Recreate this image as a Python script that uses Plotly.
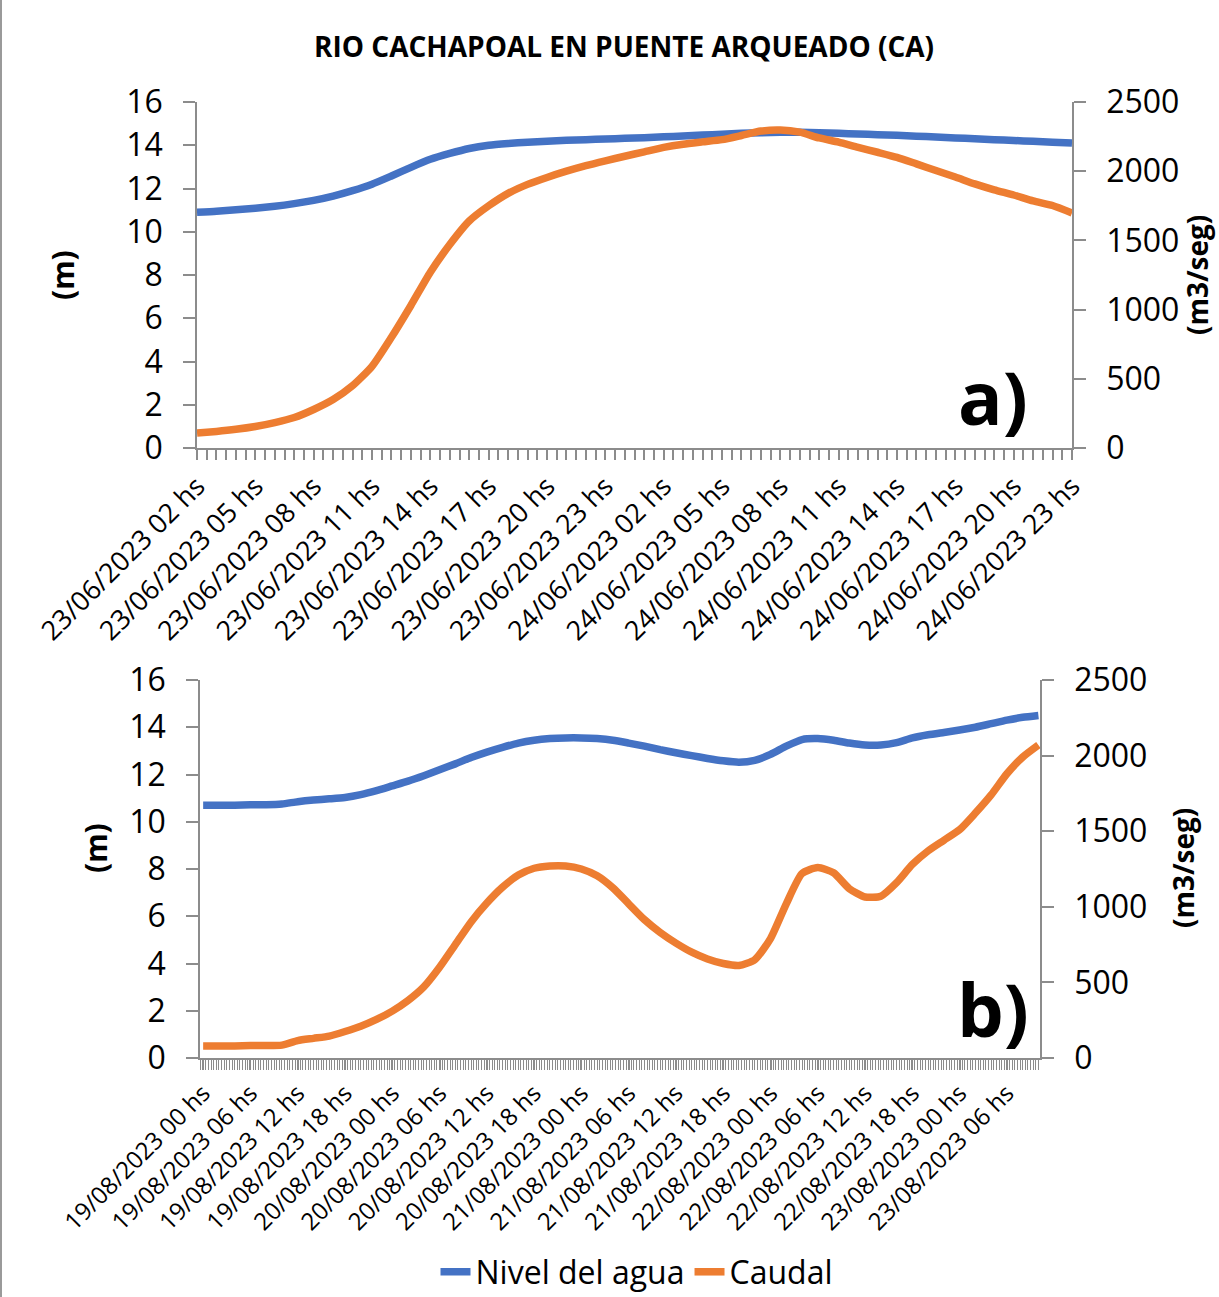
import plotly.graph_objects as go

W, H = 1219, 1297

# ---------------- data: panel a) (hourly, 23/06/2023 02 hs -> 24/06/2023 23 hs)
hours_a = list(range(46))
nivel_a = [10.90, 10.95, 11.02, 11.09, 11.18, 11.30, 11.45, 11.65, 11.90, 12.20,
           12.58, 12.98, 13.35, 13.62, 13.85, 14.00, 14.08, 14.14, 14.19, 14.23,
           14.26, 14.29, 14.32, 14.35, 14.39, 14.43, 14.47, 14.51, 14.55, 14.58,
           14.60, 14.60, 14.58, 14.55, 14.52, 14.49, 14.46, 14.42, 14.38, 14.34,
           14.30, 14.26, 14.22, 14.18, 14.14, 14.10]
caudal_a = [108, 120, 135, 155, 183, 220, 278, 350, 450, 590,
            800, 1030, 1270, 1470, 1640, 1750, 1840, 1905, 1955, 2000,
            2040, 2075, 2108, 2140, 2172, 2195, 2212, 2228, 2258, 2290,
            2298, 2282, 2240, 2210, 2172, 2137, 2100, 2053, 2005, 1958,
            1908, 1865, 1828, 1785, 1752, 1698]
ticks_a = list(range(0, 46, 3))
labels_a = ["23/06/2023 02 hs", "23/06/2023 05 hs", "23/06/2023 08 hs", "23/06/2023 11 hs",
            "23/06/2023 14 hs", "23/06/2023 17 hs", "23/06/2023 20 hs", "23/06/2023 23 hs",
            "24/06/2023 02 hs", "24/06/2023 05 hs", "24/06/2023 08 hs", "24/06/2023 11 hs",
            "24/06/2023 14 hs", "24/06/2023 17 hs", "24/06/2023 20 hs", "24/06/2023 23 hs"]

# ---------------- data: panel b) (every 2 h, 19/08/2023 00 hs -> 23/08/2023 10 hs)
hours_b = list(range(0, 107, 2))
nivel_b = [10.70, 10.70, 10.70, 10.72, 10.72, 10.75, 10.85, 10.92, 10.97, 11.03,
           11.15, 11.32, 11.52, 11.72, 11.95, 12.20, 12.45, 12.72, 12.95, 13.15,
           13.33, 13.45, 13.52, 13.55, 13.55, 13.52, 13.45, 13.33, 13.20, 13.05,
           12.92, 12.80, 12.68, 12.58, 12.52, 12.60, 12.85, 13.20, 13.48, 13.52,
           13.45, 13.33, 13.25, 13.25, 13.35, 13.55, 13.68, 13.78, 13.88, 14.00,
           14.15, 14.30, 14.42, 14.50]
caudal_b = [80, 80, 80, 82, 82, 85, 115, 130, 145, 175,
            210, 255, 310, 380, 470, 600, 750, 900, 1025, 1130,
            1210, 1255, 1270, 1270, 1250, 1205, 1125, 1020, 915, 830,
            760, 700, 655, 625, 612, 650, 790, 1020, 1220, 1260,
            1225, 1120, 1065, 1070, 1160, 1280, 1370, 1440, 1510, 1620,
            1740, 1880, 1990, 2070]
ticks_b = list(range(0, 103, 6))
labels_b = ["19/08/2023 00 hs", "19/08/2023 06 hs", "19/08/2023 12 hs", "19/08/2023 18 hs",
            "20/08/2023 00 hs", "20/08/2023 06 hs", "20/08/2023 12 hs", "20/08/2023 18 hs",
            "21/08/2023 00 hs", "21/08/2023 06 hs", "21/08/2023 12 hs", "21/08/2023 18 hs",
            "22/08/2023 00 hs", "22/08/2023 06 hs", "22/08/2023 12 hs", "22/08/2023 18 hs",
            "23/08/2023 00 hs", "23/08/2023 06 hs"]

BLUE = "#4472C4"
ORANGE = "#ED7D31"
GREY = "#8c8c8c"
FONT = "Open Sans"


def fx(x):
    return x / W


def fy(y):
    return 1 - y / H


fig = go.Figure()
line_kw = dict(width=7.5)
fig.add_trace(go.Scatter(x=hours_a, y=nivel_a, name="Nivel del agua", mode="lines",
                         line=dict(color=BLUE, shape="spline", smoothing=0.6, **line_kw),
                         xaxis="x", yaxis="y"))
fig.add_trace(go.Scatter(x=hours_a, y=caudal_a, name="Caudal", mode="lines",
                         line=dict(color=ORANGE, shape="spline", smoothing=0.6, **line_kw),
                         xaxis="x", yaxis="y2"))
fig.add_trace(go.Scatter(x=hours_b, y=nivel_b, name="Nivel del agua", mode="lines", showlegend=False,
                         line=dict(color=BLUE, shape="spline", smoothing=0.6, **line_kw),
                         xaxis="x2", yaxis="y3"))
fig.add_trace(go.Scatter(x=hours_b, y=caudal_b, name="Caudal", mode="lines", showlegend=False,
                         line=dict(color=ORANGE, shape="spline", smoothing=0.6, **line_kw),
                         xaxis="x2", yaxis="y4"))

axis_common = dict(showgrid=False, zeroline=False, showline=True, linecolor=GREY, linewidth=1.5,
                   tickcolor=GREY, tickwidth=1.5, fixedrange=True, automargin=False)

xa_dom = [fx(197), fx(1072)]
xb_dom = [fx(200), fx(1040)]
ya_dom = [fy(448), fy(102)]
yb_dom = [fy(1058), fy(680)]

inside_common = dict(showticklabels=False, showline=False, showgrid=False, zeroline=False,
                     tickcolor=GREY, tickwidth=1.5, ticks="inside", ticklen=12, automargin=False)
YT = dict(size=32, family=FONT, color="black")

layout = dict(
    width=W, height=H, autosize=False,
    margin=dict(l=0, r=0, t=0, b=0, pad=0, autoexpand=False),
    paper_bgcolor="white", plot_bgcolor="white",
    font=dict(family=FONT, color="black"),
    showlegend=True,
    legend=dict(orientation="h", x=fx(637), xanchor="center", y=fy(1272), yanchor="middle",
                font=dict(size=32, family=FONT, color="black"), bgcolor="rgba(0,0,0,0)"),
    xaxis=dict(domain=xa_dom, anchor="y", range=[0, 45], tickmode="array", tickvals=ticks_a,
               ticktext=labels_a, tickangle=-45, ticks="outside", ticklen=10,
               tickfont=dict(size=27, family=FONT, color="black"),
               minor=dict(dtick=0.5, tick0=0, ticks="outside", ticklen=10, tickcolor=GREY,
                          tickwidth=1.5, showgrid=False),
               **axis_common),
    yaxis=dict(domain=ya_dom, anchor="x", range=[0, 16], dtick=2, ticks="outside", ticklen=12,
               ticklabelstandoff=14, tickfont=YT, **axis_common),
    yaxis2=dict(anchor="x", overlaying="y", side="right", range=[0, 2500], dtick=500,
                ticks="outside", ticklen=12, ticklabelstandoff=14, tickfont=YT, **axis_common),
    xaxis2=dict(domain=xb_dom, anchor="y3", range=[-0.4, 106.2], tickmode="array", tickvals=ticks_b,
                ticktext=labels_b, tickangle=-45, ticks="outside", ticklen=10,
                tickfont=dict(size=24, family=FONT, color="black"),
                minor=dict(dtick=1 / 3, tick0=0, ticks="outside", ticklen=10, tickcolor=GREY,
                           tickwidth=1.2, showgrid=False),
                **axis_common),
    yaxis3=dict(domain=yb_dom, anchor="x2", range=[0, 16], dtick=2, ticks="outside", ticklen=12,
                ticklabelstandoff=14, tickfont=YT, **axis_common),
    yaxis4=dict(anchor="x2", overlaying="y3", side="right", range=[0, 2500], dtick=500,
                ticks="outside", ticklen=12, ticklabelstandoff=14, tickfont=YT, **axis_common),
    yaxis5=dict(anchor="x", overlaying="y", side="left", range=[0, 16], dtick=2, **inside_common),
    yaxis6=dict(anchor="x", overlaying="y", side="right", range=[0, 2500], dtick=500, **inside_common),
    yaxis7=dict(anchor="x2", overlaying="y3", side="left", range=[0, 16], dtick=2, **inside_common),
    yaxis8=dict(anchor="x2", overlaying="y3", side="right", range=[0, 2500], dtick=500, **inside_common),
)

ann = []
ann.append(dict(x=fx(624), y=fy(46), xref="paper", yref="paper", showarrow=False,
                text="<b>RIO CACHAPOAL EN PUENTE ARQUEADO (CA)</b>",
                font=dict(size=28, family=FONT, color="black"), xanchor="center", yanchor="middle"))
for (x, y, t) in [(62, 275, "(m)"), (95, 848, "(m)")]:
    ann.append(dict(x=fx(x), y=fy(y), xref="paper", yref="paper", showarrow=False, text=f"<b>{t}</b>",
                    textangle=-90, font=dict(size=30, family=FONT, color="black"),
                    xanchor="center", yanchor="middle"))
for (x, y) in [(1197, 275), (1183, 868)]:
    ann.append(dict(x=fx(x), y=fy(y), xref="paper", yref="paper", showarrow=False, text="<b>(m3/seg)</b>",
                    textangle=-90, font=dict(size=28, family=FONT, color="black"),
                    xanchor="center", yanchor="middle"))
for (x, y, t) in [(993, 397, "a)"), (993, 1008, "b)")]:
    ann.append(dict(x=fx(x), y=fy(y), xref="paper", yref="paper", showarrow=False, text=f"<b>{t}</b>",
                    font=dict(size=74, family=FONT, color="black"), xanchor="center", yanchor="middle"))
layout["annotations"] = ann
layout["shapes"] = [dict(type="line", xref="paper", yref="paper", x0=fx(1), x1=fx(1), y0=0, y1=1,
                         line=dict(color="#9a9a9a", width=2))]

fig.update_layout(**layout)
fig.write_html("out.html", config={"displayModeBar": False},
               post_script="document.body.style.margin='0px';")
